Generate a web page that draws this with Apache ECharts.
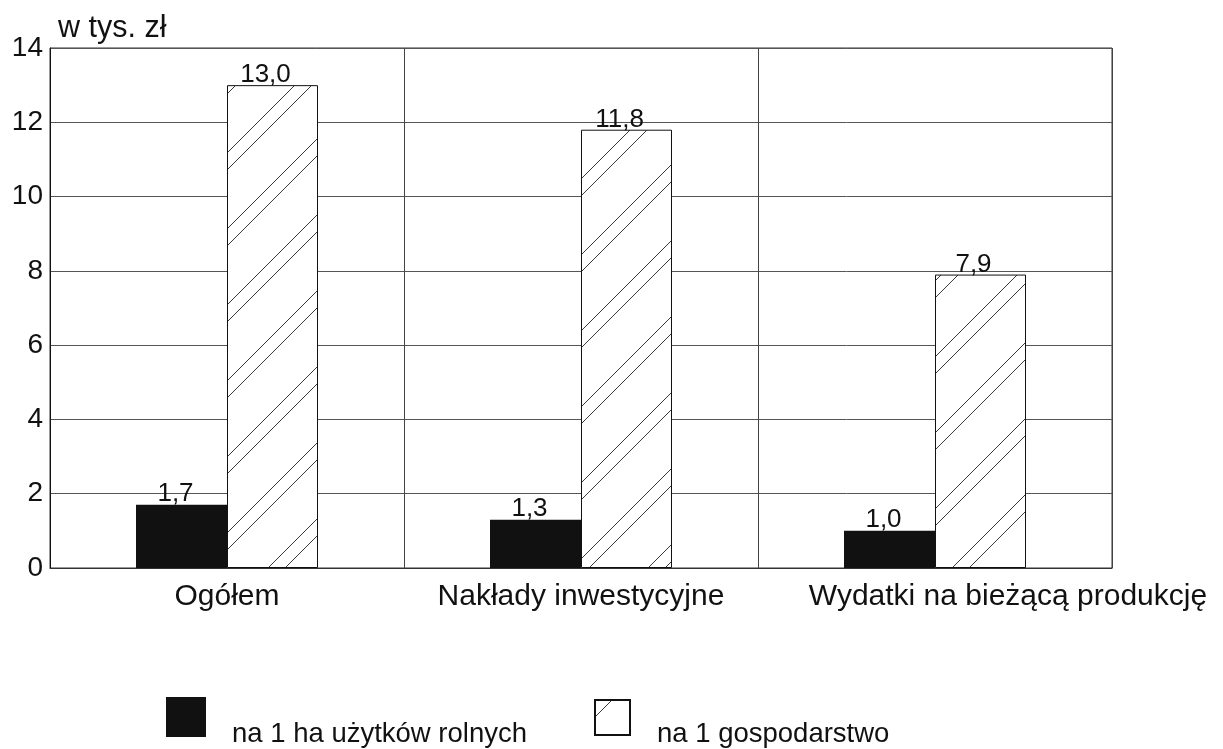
<!DOCTYPE html>
<html><head><meta charset="utf-8">
<script src="https://cdn.jsdelivr.net/npm/echarts@6/dist/echarts.min.js"></script>
<style>html,body{margin:0;padding:0;background:#fff}#c{width:1223px;height:749px}</style>
</head><body><div id="c"></div>
<script>
var categories = ['Ogółem', 'Nakłady inwestycyjne', 'Wydatki na bieżącą produkcję'];
var perHectare = [1.7, 1.3, 1.0];
var perFarm = [13.0, 11.8, 7.9];
var yTicks = [0, 2, 4, 6, 8, 10, 12, 14];
var seriesNames = ['na 1 ha użytków rolnych', 'na 1 gospodarstwo'];
var unitLabel = 'w tys. zł';

function hatch() {
  var s = 76;
  var c = document.createElement('canvas');
  c.width = s; c.height = s;
  var g = c.getContext('2d');
  g.fillStyle = '#fff'; g.fillRect(0, 0, s, s);
  g.strokeStyle = '#222'; g.lineWidth = 0.9;
  [0, 17].forEach(function (o) {
    for (var k = -1; k <= 1; k++) {
      var off = o + k * s;
      g.beginPath();
      g.moveTo(off, s);
      g.lineTo(off + s, 0);
      g.stroke();
    }
  });
  return c;
}
var pat = { image: hatch(), repeat: 'repeat' };
var font = 'Liberation Sans, Arial, sans-serif';
function fmt(p) { return p.value.toFixed(1).replace('.', ','); }
function legendFmt(n) { return '\n' + n; }

var catData = categories.map(function (c, i) {
  return i === 2 ? { value: c, textStyle: { padding: [0, 0, 0, 146] } } : c;
});

var chart = echarts.init(document.getElementById('c'), null, { renderer: 'canvas' });
chart.setOption({
  animation: false,
  textStyle: { fontFamily: font },
  grid: { left: 50, right: 111, top: 48, bottom: 181, show: true, borderColor: '#333', borderWidth: 1 },
  legend: [
    { left: 166, top: 683, padding: 0, itemWidth: 40, itemHeight: 40, icon: 'rect',
      formatter: legendFmt,
      textStyle: { fontSize: 27.5, lineHeight: 34, color: '#111', fontFamily: font, padding: [0, 0, 0, 21] },
      data: [seriesNames[0]], selectedMode: false },
    { left: 594, top: 683.5, padding: 0, itemWidth: 35, itemHeight: 35, icon: 'rect',
      formatter: legendFmt,
      textStyle: { fontSize: 27.5, lineHeight: 34, color: '#111', fontFamily: font, padding: [0, 0, 0, 22] },
      data: [seriesNames[1]], selectedMode: false }
  ],
  graphic: [{ type: 'text', left: 58, top: 13, style: { text: unitLabel, fontSize: 30.5, fill: '#111', fontFamily: font } }],
  xAxis: {
    type: 'category', data: catData,
    axisLine: { lineStyle: { color: '#333' } },
    axisTick: { show: false },
    splitLine: { show: true, interval: 0, lineStyle: { color: '#444', width: 1 } },
    axisLabel: { interval: 0, fontSize: 30, color: '#111', margin: 14, fontFamily: font }
  },
  yAxis: {
    type: 'value', min: 0, max: 14, interval: 2,
    axisLine: { show: true, lineStyle: { color: '#111' } },
    axisTick: { show: false },
    splitLine: { lineStyle: { color: '#555', width: 1 } },
    axisLabel: { fontSize: 28, color: '#111', margin: 7, fontFamily: font,
      formatter: function (v) { return yTicks.indexOf(v) >= 0 ? String(v) : ''; } }
  },
  series: [
    { name: seriesNames[0], type: 'bar', data: perHectare, barWidth: 91, barGap: '0%',
      itemStyle: { color: '#111' },
      label: { show: true, position: 'top', distance: 0, offset: [-6, 2], fontSize: 26, color: '#111', fontFamily: font, formatter: fmt } },
    { name: seriesNames[1], type: 'bar', data: perFarm, barWidth: 91,
      itemStyle: { color: pat, borderColor: '#111', borderWidth: 1 },
      label: { show: true, position: 'top', distance: 0, offset: [-7, 3], fontSize: 26, color: '#111', fontFamily: font, formatter: fmt } }
  ]
});
</script></body></html>
